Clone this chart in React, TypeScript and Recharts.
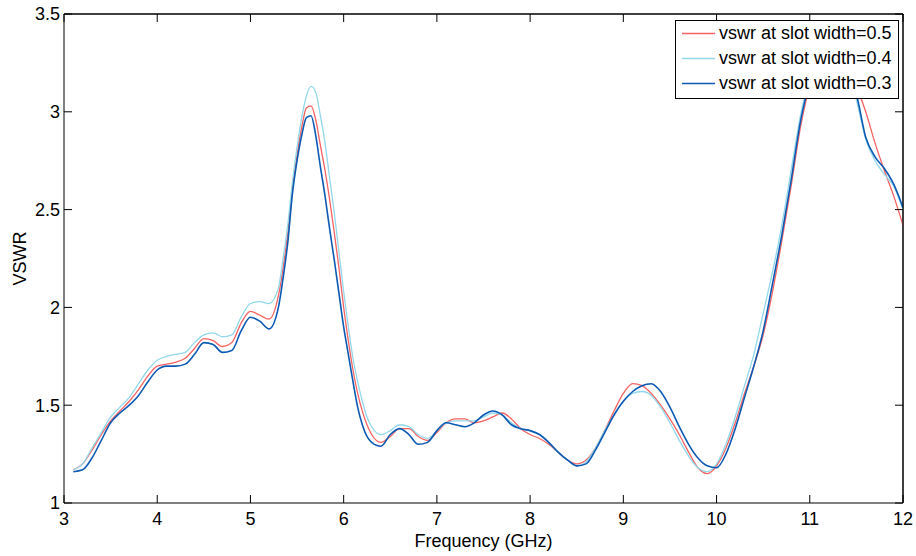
import { LineChart, Line, XAxis, YAxis, Legend, Label, ReferenceLine } from 'recharts'

const freq = [
  3.1, 3.2, 3.3, 3.4, 3.5, 3.6, 3.7, 3.8, 3.9, 4.0, 4.1, 4.2, 4.3, 4.4, 4.5, 4.6, 4.7, 4.8, 4.9, 5.0, 5.1, 5.2, 5.3,
  5.35, 5.4, 5.45, 5.5, 5.55, 5.6, 5.65, 5.7, 5.75, 5.8, 5.85, 5.9, 5.95, 6.0, 6.05, 6.1, 6.15, 6.2, 6.25,
  6.3, 6.4, 6.5, 6.6, 6.7, 6.8, 6.9, 7.0, 7.1, 7.2, 7.3, 7.4, 7.5, 7.6, 7.7, 7.8, 7.9, 8.0, 8.1, 8.2, 8.3, 8.4, 8.5,
  8.6, 8.7, 8.8, 8.9, 9.0, 9.1, 9.2, 9.3, 9.4, 9.5, 9.6, 9.7, 9.8, 9.9, 10.0, 10.1, 10.2, 10.3, 10.4, 10.5, 10.6,
  10.7, 10.8, 10.9, 11.0, 11.1, 11.2, 11.3, 11.4, 11.5, 11.6, 11.7, 11.8, 11.9, 12.0,
]

// slot width = 0.5
const vswr05 = [
  1.17, 1.2, 1.27, 1.35, 1.42, 1.47, 1.52, 1.58, 1.65, 1.7, 1.71, 1.72, 1.74, 1.79, 1.84, 1.83, 1.8, 1.82, 1.92, 1.98, 1.96, 1.94, 2.06,
  2.2, 2.38, 2.6, 2.78, 2.92, 3.02, 3.03, 2.96, 2.83, 2.7, 2.55, 2.38, 2.2, 2.0, 1.83, 1.68, 1.56, 1.47, 1.4,
  1.35, 1.31, 1.34, 1.38, 1.38, 1.34, 1.32, 1.36, 1.41, 1.43, 1.43, 1.41, 1.42, 1.44, 1.46, 1.43, 1.38, 1.35, 1.33, 1.3, 1.26, 1.22, 1.2,
  1.22, 1.28, 1.37, 1.47, 1.56, 1.61, 1.6, 1.56, 1.5, 1.43, 1.35, 1.26, 1.18, 1.15, 1.19, 1.28, 1.41, 1.56, 1.7, 1.86, 2.08,
  2.34, 2.62, 2.92, 3.13, 3.24, 3.28, 3.27, 3.22, 3.13, 3.0, 2.84, 2.7, 2.57, 2.42,
]

// slot width = 0.4
const vswr04 = [
  1.17, 1.2, 1.28, 1.36, 1.44, 1.49, 1.54, 1.61, 1.68, 1.73, 1.75, 1.76, 1.77, 1.82, 1.86, 1.87, 1.85, 1.86, 1.95, 2.02, 2.03, 2.02, 2.1,
  2.25, 2.42, 2.64, 2.82, 2.97, 3.08, 3.13, 3.1, 2.98, 2.84, 2.66, 2.48, 2.28, 2.08, 1.9, 1.74, 1.62, 1.52, 1.44,
  1.39, 1.35, 1.37, 1.4, 1.39, 1.35, 1.33, 1.37, 1.41, 1.42, 1.42, 1.42, 1.44, 1.46, 1.45, 1.41, 1.38, 1.37, 1.35, 1.31, 1.26, 1.22, 1.19,
  1.21, 1.28, 1.37, 1.45, 1.52, 1.56, 1.57, 1.55, 1.49, 1.41, 1.32, 1.24, 1.18, 1.16, 1.2, 1.3, 1.44, 1.6, 1.76, 1.97, 2.18,
  2.42, 2.7, 2.98, 3.18, 3.28, 3.31, 3.29, 3.21, 3.06, 2.86, 2.75, 2.68, 2.62, 2.5,
]

// slot width = 0.3
const vswr03 = [
  1.16, 1.17, 1.23, 1.32, 1.41, 1.46, 1.5, 1.55, 1.62, 1.68, 1.7, 1.7, 1.71, 1.76, 1.82, 1.81, 1.77, 1.78, 1.88, 1.95, 1.93, 1.89, 2.0,
  2.15, 2.33, 2.58, 2.75, 2.88, 2.97, 2.98, 2.88, 2.72, 2.57, 2.4, 2.24, 2.07, 1.9, 1.76, 1.62, 1.49, 1.4, 1.34,
  1.31, 1.29, 1.35, 1.38, 1.35, 1.3, 1.31, 1.37, 1.41, 1.4, 1.39, 1.41, 1.45, 1.47, 1.45, 1.4, 1.38, 1.37, 1.35, 1.31, 1.26, 1.22, 1.19,
  1.2, 1.27, 1.36, 1.45, 1.52, 1.57, 1.6, 1.61, 1.57, 1.49, 1.39, 1.3, 1.23, 1.19, 1.18, 1.25, 1.38, 1.54, 1.7, 1.88, 2.12,
  2.37, 2.65, 2.95, 3.15, 3.27, 3.3, 3.28, 3.21, 3.09, 2.87, 2.77, 2.71, 2.63, 2.51,
]

const xTicks = [3, 4, 5, 6, 7, 8, 9, 10, 11, 12]
const yTicks = [1, 1.5, 2, 2.5, 3, 3.5]

const seriesNames = ['vswr at slot width=0.5', 'vswr at slot width=0.4', 'vswr at slot width=0.3']
const seriesKeys = ['w05', 'w04', 'w03']
const colors = ['#f56262', '#92d8ea', '#0c5ab4']
const widths = [1.3, 1.3, 1.6]

const data = freq.map((f, i) => ({ f, w05: vswr05[i], w04: vswr04[i], w03: vswr03[i] }))

const font = '"Liberation Sans", Arial, sans-serif'
const tickStyle = { fill: '#000', fontSize: 18, fontFamily: font }

const LegendBox = () => (
  <div
    style={{
      border: '1px solid #000',
      background: '#fff',
      padding: '0 6px 2px 6px',
      fontFamily: font,
      fontSize: 18,
      lineHeight: '25px',
      color: '#000',
      whiteSpace: 'nowrap',
    }}
  >
    {seriesNames.map((name, i) => (
      <div key={name} style={{ display: 'flex', alignItems: 'center', height: 25 }}>
        <svg width={33} height={25}>
          <line x1={0} x2={33} y1={12.5} y2={12.5} stroke={colors[i]} strokeWidth={widths[i]} />
        </svg>
        <span style={{ marginLeft: 4 }}>{name}</span>
      </div>
    ))}
  </div>
)

const YTitle = ({ viewBox }: any) => {
  const cx = viewBox.x + 20
  const cy = viewBox.y + viewBox.height / 2
  return (
    <text
      x={cx}
      y={cy}
      transform={`rotate(-90 ${cx} ${cy})`}
      textAnchor="middle"
      dominantBaseline="central"
      fontSize={18}
      fontFamily={font}
      fill="#000"
    >
      VSWR
    </text>
  )
}

const XTitle = ({ viewBox }: any) => (
  <text
    x={viewBox.x + viewBox.width / 2}
    y={viewBox.y + 44}
    textAnchor="middle"
    fontSize={18}
    fontFamily={font}
    fill="#000"
  >
    Frequency (GHz)
  </text>
)

const noTick = () => <g />

export default function App() {
  return (
    <div style={{ width: 916, height: 556, position: 'relative', background: '#fff' }}>
      <style>{'body { margin: 0; }'}</style>
      <LineChart width={916} height={556} data={data} margin={{ top: 13, right: 12, left: 0, bottom: 0 }}>
        <XAxis
          dataKey="f"
          type="number"
          domain={[3, 12]}
          ticks={xTicks}
          interval={0}
          allowDataOverflow
          height={53}
          stroke="#000"
          tickLine={{ stroke: '#000' }}
          tickSize={-8}
          tickMargin={17}
          tick={tickStyle}
        >
          <Label content={XTitle} />
        </XAxis>
        <XAxis
          xAxisId="top"
          orientation="top"
          dataKey="f"
          type="number"
          domain={[3, 12]}
          ticks={xTicks}
          interval={0}
          allowDataOverflow
          height={1}
          stroke="#000"
          tickLine={{ stroke: '#000' }}
          tickSize={-8}
          tick={noTick}
        />
        <YAxis
          type="number"
          domain={[1, 3.5]}
          ticks={yTicks}
          interval={0}
          allowDataOverflow
          width={64}
          stroke="#000"
          tickLine={{ stroke: '#000' }}
          tickSize={-8}
          tickMargin={12}
          tick={tickStyle}
        >
          <Label content={YTitle} />
        </YAxis>
        <YAxis
          yAxisId="right"
          orientation="right"
          type="number"
          domain={[1, 3.5]}
          ticks={yTicks}
          interval={0}
          allowDataOverflow
          width={1}
          stroke="#000"
          tickLine={{ stroke: '#000' }}
          tickSize={-8}
          tick={noTick}
        />
        <ReferenceLine y={3.5} stroke="#000" ifOverflow="visible" />
        <ReferenceLine x={12} stroke="#000" ifOverflow="visible" />
        {seriesKeys.map((k, i) => (
          <Line
            key={k}
            dataKey={k}
            name={seriesNames[i]}
            type="monotone"
            stroke={colors[i]}
            strokeWidth={widths[i]}
            dot={false}
            activeDot={false}
            isAnimationActive={false}
          />
        ))}
        <Legend
          layout="horizontal"
          verticalAlign="middle"
          align="center"
          wrapperStyle={{ top: 20, left: 675, width: 'auto' }}
          content={LegendBox}
        />
      </LineChart>
    </div>
  )
}
